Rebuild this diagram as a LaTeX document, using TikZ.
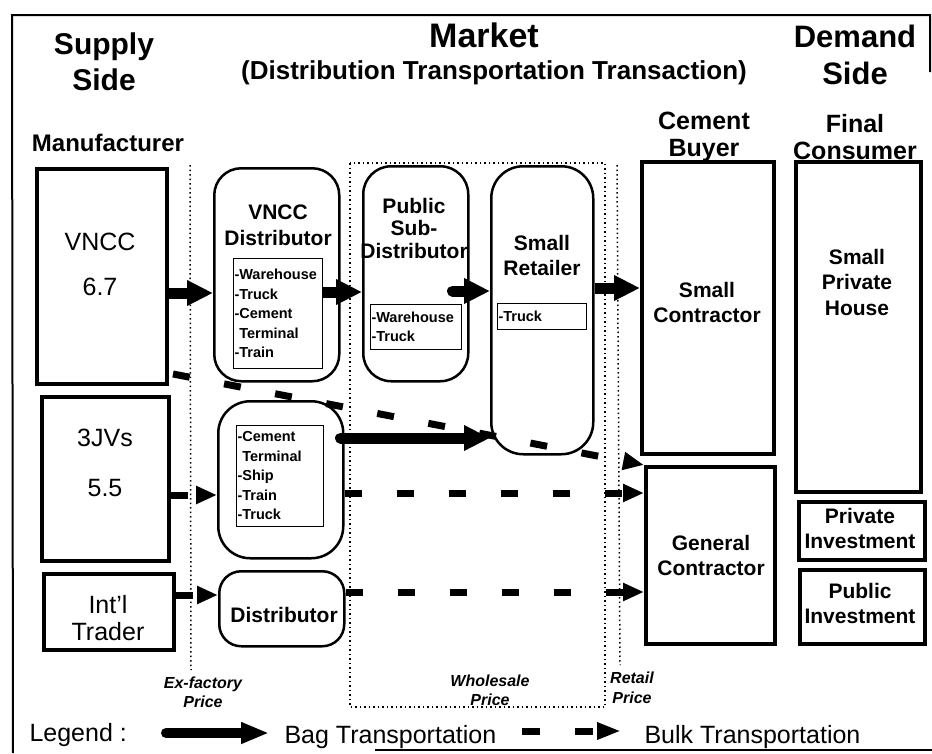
\documentclass[tikz,border=0pt]{standalone}
\usepackage{fontspec}
\setmainfont{Liberation Sans}
\usetikzlibrary{arrows.meta,calc}
\begin{document}
\begin{tikzpicture}[x=1pt,y=-1pt,
  thickbox/.style={draw,line width=4pt,inner sep=0pt,anchor=north west},
  rbox/.style={draw,line width=2.5pt,inner sep=0pt,anchor=north west},
  listbox/.style={draw,line width=1pt,inner sep=1pt,anchor=north west,align=left,font=\fontsize{14.5}{19.5}\selectfont\bfseries},
  head/.style={font=\fontsize{30}{36}\selectfont\bfseries,align=center},
  subhead/.style={font=\fontsize{25}{27}\selectfont\bfseries,align=center},
  lbl/.style={font=\fontsize{21}{25}\selectfont\bfseries,align=center},
  rlbl/.style={font=\fontsize{25}{27}\selectfont,align=center},
  price/.style={font=\fontsize{16}{19}\selectfont\bfseries\itshape,align=center},
  bag/.style={line width=11pt,-{Triangle[length=26pt,width=24pt]}},
  bulk/.style={line width=7pt,dash pattern=on 17pt off 35pt,-{Triangle[length=21pt,width=17pt]}},
  sepline/.style={line width=1.5pt,dash pattern=on 1.5pt off 3pt},
  frame/.style={line width=2pt},
]
\useasboundingbox (0,0) rectangle (932,753);
% frame
\draw[frame] (930,72) -- (930,15) -- (12,15) -- (13,753);
\draw[frame] (375,750) -- (932,750);

% separators (dotted)
\draw[sepline] (190,165) -- (191,670);
\draw[sepline] (350,163) rectangle (605,707);
\draw[sepline] (617,165) -- (620,665);

% headings
\node[head] (supply) at (104,62) {Supply\\Side};
\node[head,font=\fontsize{34}{36}\selectfont\bfseries] (market) at (484,35) {Market};
\node[font=\fontsize{26}{30}\selectfont\bfseries] (dtt) at (494,73) {(Distribution Transportation Transaction)};
\node[head,font=\fontsize{31}{37}\selectfont\bfseries] (demand) at (855,55) {Demand\\Side};
\node[subhead] (buyer) at (704,137) {Cement\\Buyer};
\node[subhead] (final) at (855,137) {Final\\Consumer};
\node[font=\fontsize{24}{27}\selectfont\bfseries] (manu) at (108,143) {Manufacturer};

% manufacturer boxes
\node[thickbox,minimum width=130pt,minimum height=215pt] (vncc) at (35,167) {};
\node[thickbox,minimum width=127pt,minimum height=164pt] (jvs) at (40,395) {};
\node[thickbox,minimum width=130pt,minimum height=76pt] (intl) at (42,572) {};
\node[rlbl,align=center,font=\fontsize{25}{45}\selectfont] (vnccT) at (100,264.5) {VNCC\\6.7};
\node[rlbl,align=center,font=\fontsize{25}{50}\selectfont] (jvsT) at (105,463) {3JVs\\5.5};
\node[rlbl] (intlT) at (108,618) {Int'l\\Trader};

% distributors
\node[rbox,rounded corners=27pt,minimum width=125pt,minimum height=213pt] (vd) at (213,167) {};
\node[lbl,font=\fontsize{21}{26}\selectfont\bfseries] (vdT) at (278,225) {VNCC\\Distributor};
\node[listbox,text width=87pt,minimum height=110pt] (vdin) at (233,258) {-Warehouse\\-Truck\\-Cement\\\phantom{-}Terminal\\-Train};

\node[rbox,rounded corners=28pt,minimum width=105pt,minimum height=215pt] (psd) at (362,165) {};
\node[lbl,font=\fontsize{21}{22.5}\selectfont\bfseries] (psdT) at (414,228) {Public\\Sub-\\Distributor};
\node[listbox,text width=89pt,minimum height=45pt] (psdin) at (370,304) {-Warehouse\\-Truck};

\node[rbox,rounded corners=32pt,minimum width=102pt,minimum height=288pt] (sr) at (490,165) {};
\node[lbl] (srT) at (542,255) {Small\\Retailer};
\node[listbox,text width=87pt,minimum height=26pt] (srin) at (497,303) {-Truck};

\node[rbox,rounded corners=32pt,minimum width=125pt,minimum height=157pt] (jd) at (217,400) {};
\node[listbox,text width=85pt,minimum height=101pt] (jdin) at (236,425) {-Cement\\\phantom{-}Terminal\\-Ship\\-Train\\-Truck};

\node[rbox,rounded corners=22pt,minimum width=125pt,minimum height=75pt] (dist) at (218,570) {};
\node[lbl] (distT) at (284,615) {Distributor};

% buyers and consumers
\node[thickbox,minimum width=132pt,minimum height=292pt] (sc) at (640,160) {};
\node[lbl] (scT) at (707,302) {Small\\Contractor};
\node[thickbox,minimum width=129pt,minimum height=177pt] (gc) at (644,465) {};
\node[lbl] (gcT) at (711,555) {General\\Contractor};
\node[thickbox,minimum width=125pt,minimum height=330pt] (sph) at (794,160) {};
\node[lbl,font=\fontsize{21}{25.5}\selectfont\bfseries] (sphT) at (857,282) {Small\\Private\\House};
\node[thickbox,minimum width=126pt,minimum height=58pt] (pri) at (797,500) {};
\node[lbl] (priT) at (860,528) {Private\\Investment};
\node[thickbox,minimum width=125pt,minimum height=74pt] (pub) at (798,568) {};
\node[lbl] (pubT) at (860,603) {Public\\Investment};

% price labels
\node[price] (exf) at (203,692) {Ex-factory\\Price};
\node[price] (whs) at (490,690) {Wholesale\\Price};
\node[price,font=\fontsize{16}{20}\selectfont\bfseries\itshape] (ret) at (632,688) {Retail\\Price};

% bag transportation
\draw[bag] (vncc.east |- 0,293) -- (vd.west |- 0,293);
\draw[bag] (vdin.east |- 0,292) -- (psd.west |- 0,292);
\draw[bag,line cap=round] ($(psd.east |- 0,291)+(-17,0)$) -- (sr.west |- 0,291);
\draw[bag] (sr.east |- 0,288) -- (sc.west |- 0,288);
\draw[bag,line cap=round] ($(jd.east |- 0,438)+(-4,0)$) -- (sr.west |- 0,438);

% bulk transportation
\draw[bulk] (jvs.east |- 0,495) -- (jd.west |- 0,495);
\draw[bulk] (intl.east |- 0,595) -- (dist.west |- 0,595);
\draw[bulk] (jd.east |- 0,493) -- (gc.west |- 0,493);
\draw[bulk] (dist.east |- 0,592) -- (gc.west |- 0,592);
\draw[bulk] ($(vncc.south east)+(4,-12)$) -- (gc.north west);

% legend
\node[font=\fontsize{25}{28}\selectfont,anchor=west] (legend) at (26,735) {Legend :};
\node[font=\fontsize{25}{28}\selectfont,anchor=west] (bagT) at (281,737) {Bag Transportation};
\node[font=\fontsize{25}{28}\selectfont,anchor=west] (bulkT) at (641,737) {Bulk Transportation};
\coordinate (lbag) at (166,733);
\coordinate (lbulk) at (522,731);
\draw[line width=10pt,line cap=round,-{Triangle[length=28pt,width=20pt]},shorten >=12pt] (lbag) -- (bagT.west |- lbag);
\draw[line width=7pt,dash pattern=on 18pt off 35pt,-{Triangle[length=24pt,width=16pt]},shorten >=20pt] (lbulk) -- (bulkT.west |- lbulk);
\end{tikzpicture}
\end{document}
